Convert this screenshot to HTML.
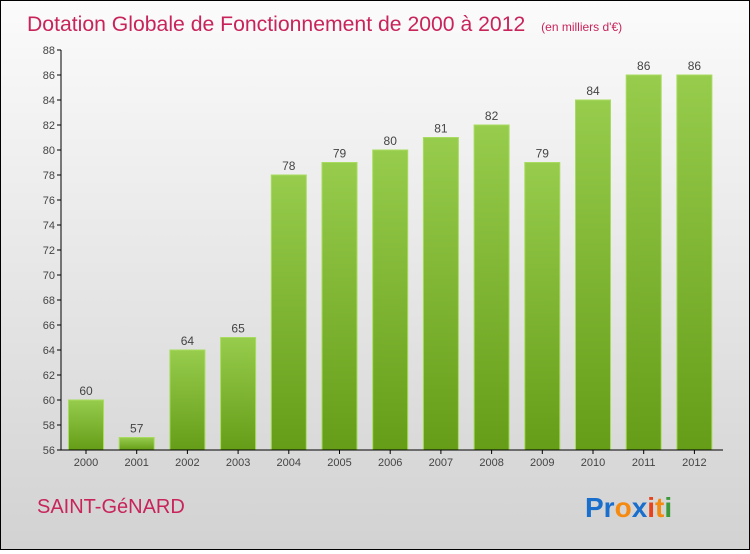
<!DOCTYPE html>
<html><head><meta charset="utf-8"><style>
html,body{margin:0;padding:0}
body{width:750px;height:550px;overflow:hidden;font-family:"Liberation Sans",sans-serif}
#wrap{position:absolute;left:0;top:0;width:748px;height:548px;border:1px solid #000;background:linear-gradient(#fbfbfb,#d2d2d2)}
</style></head><body>
<div id="wrap">
<svg width="748" height="548">
<defs><linearGradient id="g" x1="0" y1="0" x2="0" y2="1"><stop offset="0" stop-color="#97cc4c"/><stop offset="1" stop-color="#659d18"/></linearGradient></defs>
<text x="26" y="30" font-size="21.2" fill="#c8245a">Dotation Globale de Fonctionnement de 2000 à 2012 <tspan font-size="12" dx="10">(en milliers d'€)</tspan></text>
<g id="yaxis"></g>
<g id="bars"></g>
<g id="xaxis"></g>
<text x="36" y="512" font-size="20" fill="#c8245a">SAINT-GéNARD</text>
<g font-size="28" font-weight="bold" font-family="Liberation Sans, sans-serif">
<text x="584" y="516"><tspan fill="#1a6fcc">Pr</tspan><tspan fill="#f58a10">o</tspan><tspan fill="#1a6fcc">x</tspan><tspan fill="#e8421c">i</tspan><tspan fill="#f58a10">t</tspan><tspan fill="#3a9a3a">i</tspan></text>
</g>
</svg></div>
<script>
const years=["2000","2001","2002","2003","2004","2005","2006","2007","2008","2009","2010","2011","2012"];
const values=[60,57,64,65,78,79,80,81,82,79,84,86,86];
const yTicks=[56,58,60,62,64,66,68,70,72,74,76,78,80,82,84,86,88];
const NS="http://www.w3.org/2000/svg";
const yMin=56,yMax=88,plotTop=49,plotBot=449,axX=60;
const y=v=>plotBot-(v-yMin)/(yMax-yMin)*(plotBot-plotTop);
const x0=85,step=50.7,bw=35;
const x=i=>x0+i*step;
function mk(t,a,p){const e=document.createElementNS(NS,t);for(const k in a)e.setAttribute(k,a[k]);p.appendChild(e);return e;}
const ya=document.getElementById('yaxis'),ba=document.getElementById('bars'),xa=document.getElementById('xaxis');
const ax=mk('line',{x1:axX,y1:plotTop,x2:axX,y2:plotBot,stroke:'#000'},ya);


yTicks.forEach(v=>{
 const l=mk('line',{x1:axX-4,y1:y(v),x2:axX,y2:y(v),stroke:'#000'},ya);
 
 
 const t=mk('text',{x:axX-6,y:y(v)+4,'text-anchor':'end','font-size':11,fill:'#444'},ya);
 
 
 t.textContent=v;
});
const xl=mk('line',{x1:axX,y1:plotBot,x2:722,y2:plotBot,stroke:'#000'},xa);


years.forEach((yr,i)=>{
 const v=values[i];
 const r=mk('rect',{x:x(i)-bw/2,y:y(v),width:bw,height:plotBot-y(v),fill:'url(#g)',stroke:'#a8dc60','stroke-width':1},ba);
 
 
 const lb=mk('text',{x:x(i),y:y(v)-5,'text-anchor':'middle','font-size':12,fill:'#444'},ba);
 
 
 lb.textContent=v;
 const tk=mk('line',{x1:x(i),y1:plotBot,x2:x(i),y2:plotBot+4,stroke:'#000'},xa);
 
 
 const t=mk('text',{x:x(i),y:plotBot+16,'text-anchor':'middle','font-size':11,fill:'#444'},xa);
 
 
 t.textContent=yr;
});
</script>
</body></html>
